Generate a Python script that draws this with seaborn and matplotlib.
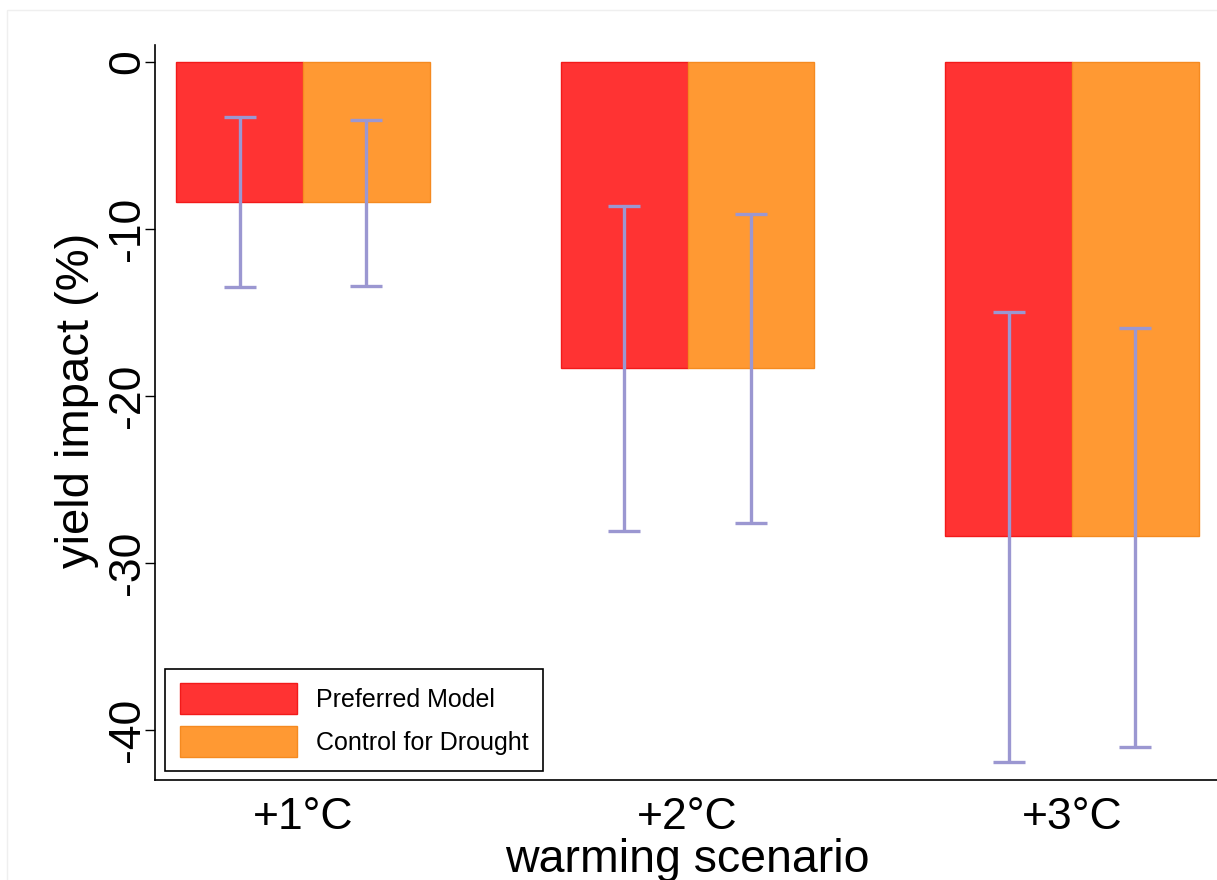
import matplotlib
matplotlib.use("Agg")
import matplotlib.pyplot as plt
from matplotlib.patches import Rectangle
import seaborn as sns
import pandas as pd
import numpy as np

scenarios = ["+1°C", "+2°C", "+3°C"]
models = ["Preferred Model", "Control for Drought"]
preferred = [-8.4, -18.3, -28.4]
drought = [-8.4, -18.3, -28.4]
preferred_hi = [-3.3, -8.6, -15.0]
preferred_lo = [-13.5, -28.1, -41.9]
drought_hi = [-3.5, -9.1, -15.9]
drought_lo = [-13.4, -27.6, -41.0]

bar_colors = ["#FF3333", "#FF9933"]
edge_colors = ["#F21A1A", "#F58A20"]
err_color = "#9B97D1"

df = pd.DataFrame({
    "scenario": scenarios * 2,
    "model": [models[0]] * 3 + [models[1]] * 3,
    "value": preferred + drought,
})

sns.set_theme(style="white")
plt.rcParams["font.family"] = ["Liberation Sans", "DejaVu Sans"]

fig = plt.figure(figsize=(12.17, 8.8), dpi=100)
ax = fig.add_axes([155 / 1217, 1 - 780 / 880, 1065 / 1217, 735 / 880])

sns.barplot(data=df, x="scenario", y="value", hue="model", order=scenarios,
            hue_order=models, palette=bar_colors, width=0.66, errorbar=None,
            saturation=1, ax=ax, legend=True)

bar_containers = list(ax.containers)
for i, cont in enumerate(bar_containers[:2]):
    his = [preferred_hi, drought_hi][i]
    los = [preferred_lo, drought_lo][i]
    vals = [preferred, drought][i]
    xs = []
    for p in cont.patches:
        p.set_edgecolor(edge_colors[i])
        p.set_linewidth(1.0)
        xs.append(p.get_x() + p.get_width() / 2)
    xs = np.array(xs)
    v = np.array(vals)
    yerr = np.vstack([v - np.array(los), np.array(his) - v])
    ax.errorbar(xs, v, yerr=yerr, fmt="none", ecolor=err_color,
                elinewidth=2.4, capsize=11.5, capthick=2.4, zorder=5)

ax.set_xlim(-0.385, 2.385)
ax.set_ylim(-43.0, 1.02)
ax.set_yticks([0, -10, -20, -30, -40])
ax.set_yticklabels(["0", "-10", "-20", "-30", "-40"], rotation=90, va="center")

for s in ["top", "right"]:
    ax.spines[s].set_visible(False)
for s in ["left", "bottom"]:
    ax.spines[s].set_color("black")
    ax.spines[s].set_linewidth(1.2)

ax.tick_params(axis="y", left=True, length=7, width=1.0, color="black",
               labelsize=32, pad=-2, labelcolor="black")
ax.tick_params(axis="x", bottom=False, length=0, labelsize=32, pad=12,
               labelcolor="black")
ax.set_ylabel("yield impact (%)", fontsize=34, color="black")
ax.yaxis.set_label_coords(-0.053, 0.517)
ax.set_xlabel("warming scenario", fontsize=33.5, color="black", labelpad=0)

handles, labels = ax.get_legend_handles_labels()
for h, ec in zip(handles, edge_colors):
    h.set_edgecolor(ec)
leg = ax.legend(handles, labels, loc="lower left",
                bbox_to_anchor=(10 / 1065, 9 / 735), fontsize=18,
                frameon=True, fancybox=False, edgecolor="black",
                handlelength=4.7, handleheight=1.5, handletextpad=0.75,
                borderpad=0.58, labelspacing=0.5, borderaxespad=0)
leg.get_frame().set_linewidth(1.2)
leg.get_frame().set_facecolor("white")
leg.get_frame().set_alpha(1)
for t in leg.get_texts():
    t.set_color("black")

# faint outer border of the graph region
fig.add_artist(Rectangle((7 / 1217, -0.05), 1.1, 1 - 10 / 880 + 0.05,
                         transform=fig.transFigure, fill=False,
                         edgecolor="#EFEFEF", linewidth=1.0, zorder=0))

fig.savefig("out.png", dpi=100, facecolor="white")
